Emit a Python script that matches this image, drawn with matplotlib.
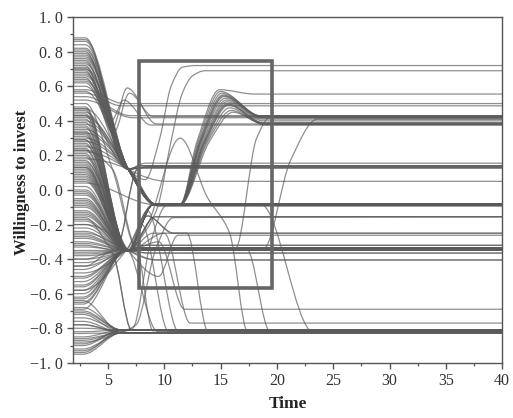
import numpy as np
import matplotlib
matplotlib.use("Agg")
import matplotlib.pyplot as plt
from matplotlib.path import Path
from matplotlib.patches import PathPatch, Rectangle
from matplotlib.ticker import MultipleLocator, FixedLocator, FixedFormatter

# ---------------- data ----------------
T_START = 1.88

def route(start, hold, t, y):
    """start: values at T_START (one per line); hold: time the lines leave
    their start value; t / y: shared key points afterwards."""
    return {"start": start, "hold": hold, "t": t, "y": y}

# upper fan -> upper cluster (0.12 at t=6.8) -> levels
fan_to_0155 = route([0.88], 3.0, [6.8, 8.3, 40], [0.12, 0.155, 0.155])
fan_to_014 = route([0.80, 0.62, 0.74], 3.0, [6.8, 8.0, 40], [0.12, 0.14, 0.14])
fan_to_013 = route([0.75, 0.45, 0.70], 3.0, [6.8, 8.0, 40], [0.12, 0.128, 0.128])
fan_to_072 = route([0.86], 3.0, [6.8, 8.3, 9.6, 10.6, 11.6, 12.8, 40],
                   [0.12, 0.06, 0.30, 0.60, 0.71, 0.72, 0.72])
fan_to_005 = route([0.68], 3.0, [6.8, 10.3, 40], [0.12, 0.05, 0.05])
fan_to_m008 = route([0.84, 0.71, 0.40, 0.30, 0.87, 0.76, 0.47], 3.0, [6.8, 9.2, 40],
                    [0.12, -0.080, -0.080])
fan_to_m009 = route([0.78, 0.64, 0.35, 0.25, 0.81, 0.67, 0.43], 3.0, [6.8, 9.4, 40],
                    [0.12, -0.090, -0.090])
arc_a = route([0.72], 3.0, [5.4, 6.7, 9.3, 40], [0.36, 0.59, 0.382, 0.382])
arc_b = route([0.69], 3.0, [5.5, 6.9, 9.0, 40], [0.33, 0.56, 0.425, 0.425])
arc_c = route([0.65], 3.0, [5.3, 6.4, 8.8, 40], [0.40, 0.52, 0.376, 0.376])
fan_to_050 = route([0.58], 3.0, [6.4, 40], [0.50, 0.50])
fan_to_049 = route([0.56], 3.0, [6.2, 40], [0.487, 0.487])
fan_to_043 = route([0.54], 3.0, [7.0, 40], [0.43, 0.43])
fan_to_042 = route([0.52], 3.0, [7.2, 40], [0.418, 0.418])

# bump bundle (peak near t=15)
bump_start = [0.82, 0.79, 0.77, 0.73, 0.70, 0.66, 0.60, 0.42, 0.38, 0.33, 0.28, 0.22, 0.18,
              0.63, 0.57]
bump_rise_t = [12.9, 13.0, 13.1, 13.15, 13.25, 13.3, 13.4, 13.5, 13.55, 13.65, 13.75, 13.85,
               14.0, 13.2, 13.6]
bump_peak_t = [14.9, 15.0, 15.1, 15.2, 15.3, 15.4, 15.5, 15.55, 15.6, 15.7, 15.8, 15.95,
               16.1, 15.25, 15.65]
bump_peak = [0.58, 0.57, 0.56, 0.55, 0.54, 0.53, 0.52, 0.51, 0.50, 0.49, 0.475, 0.46, 0.45,
             0.545, 0.495]
bump_end_t = [18.0, 18.5, 18.6, 18.6, 18.7, 18.7, 18.7, 18.8, 18.8, 18.8, 18.9, 18.9, 19.0,
              18.6, 18.8]
bump_end = [0.555, 0.43, 0.428, 0.425, 0.42, 0.416, 0.41, 0.40, 0.39, 0.385, 0.381, 0.379,
            0.377, 0.423, 0.387]

# dark band -> lower cluster (-0.35 at t=6.8) -> levels
band_to_m0335 = route([0.48, 0.37, 0.20, 0.02, -0.18, -0.38, 0.11, -0.27,
                       0.33, 0.17, -0.03, -0.20, -0.40], 3.0,
                      [6.8, 8.0, 40], [-0.35, -0.334, -0.334])
band_to_m034 = route([0.44, 0.31, 0.15, -0.05, -0.22, -0.42, 0.06, -0.09,
                      0.29, 0.13, -0.07, -0.24, -0.44], 3.0,
                     [6.8, 8.0, 40], [-0.35, -0.340, -0.340])
band_to_m0345 = route([0.41, 0.27, 0.10, -0.12, -0.30, -0.36, -0.01,
                       0.23, 0.07, -0.14, -0.31, -0.37], 3.0,
                      [6.8, 8.0, 40], [-0.35, -0.346, -0.346])
band_to_m032 = route([0.47, 0.12], 3.0, [6.8, 8.2, 40], [-0.35, -0.32, -0.32])
band_to_m0365 = route([0.36, -0.08], 3.0, [6.8, 8.8, 40], [-0.35, -0.365, -0.365])
band_to_m0405 = route([0.26, -0.25], 3.0, [6.8, 9.3, 40], [-0.35, -0.405, -0.405])
band_to_m025 = route([0.43, 0.05], 3.0, [6.8, 8.5, 10.8, 40], [-0.35, -0.15, -0.25, -0.25])
band_to_m026 = route([0.16], 3.0, [6.8, 9.5, 11.2, 40], [-0.35, -0.50, -0.262, -0.262])
band_to_m0155 = route([0.39, -0.15], 3.0, [6.8, 9.2, 40], [-0.35, -0.155, -0.155])
band_to_m0085 = route([0.34, 0.24, 0.08, -0.02, -0.10, -0.28, -0.33, 0.19, -0.17], 3.0,
                      [6.8, 9.0, 40], [-0.35, -0.085, -0.085])
band_to_069 = route([0.46], 3.0, [6.8, 8.2, 9.4, 10.5, 11.6, 12.5, 13.6, 40],
                    [-0.35, -0.25, -0.10, 0.25, 0.56, 0.66, 0.69, 0.69])
drop_a = route([0.29], 3.0, [6.8, 7.4, 9.0, 40], [-0.35, -0.30, -0.815, -0.815])
drop_b = route([0.14], 3.0, [6.8, 8.0, 10.4, 40], [-0.35, -0.20, -0.82, -0.82])
drop_c = route([-0.06], 3.0, [6.8, 8.5, 11.3, 40], [-0.35, -0.12, -0.822, -0.822])
drop_d = route([-0.20], 3.0, [6.8, 9.4, 40], [-0.35, -0.818, -0.818])
drop_e = route([0.09], 3.0, [6.8, 9.0, 12.0, 13.9, 40], [-0.35, -0.25, -0.25, -0.82, -0.82])
drop_f = route([-0.35], 3.0, [6.8, 8.0, 17.3, 19.4, 40], [-0.35, -0.34, -0.34, -0.82, -0.82])
drop_g = route([0.21], 3.0, [6.8, 9.0, 18.6, 23.2, 40], [-0.35, -0.085, -0.085, -0.82, -0.82])
to_m069 = route([0.13], 3.0, [6.8, 9.5, 11.8, 40], [-0.35, -0.30, -0.69, -0.69])
to_m077 = route([-0.13], 3.0, [6.8, 10.0, 12.3, 40], [-0.35, -0.25, -0.77, -0.77])
wave = route([0.32], 3.0, [6.8, 8.5, 11.4, 13.8, 15.8, 17.4, 40],
             [-0.35, -0.20, 0.30, -0.04, -0.25, -0.82, -0.82])
rise_late_a = route([0.0], 3.0, [6.8, 8.0, 16.3, 18.2, 19.4, 40],
                    [-0.35, -0.34, -0.34, 0.30, 0.42, 0.42])
rise_late_b = route([-0.26], 3.0, [6.8, 8.0, 18.8, 21.2, 23.6, 40],
                    [-0.35, -0.34, -0.34, 0.17, 0.41, 0.41])
cross_down = route([0.50, 0.23], 3.0, [5.4, 7.6, 40], [0.12, -0.34, -0.34])
cross_up = route([-0.16, -0.32], 3.0, [5.7, 7.6, 8.6, 40], [-0.35, 0.12, 0.135, 0.135])
diagonal = route([0.04], 3.0, [9.2, 40], [-0.085, -0.085])

# middle-low starts
mid_to_m0343 = route([-0.46, -0.50, -0.53, -0.56, -0.60, -0.63, -0.66,
                      -0.51, -0.55, -0.58, -0.62, -0.65, -0.69], 2.8,
                     [6.6, 8.0, 40], [-0.35, -0.343, -0.343])
mid_to_m0085 = route([-0.48, -0.58], 2.8, [6.6, 9.0, 40], [-0.35, -0.085, -0.085])
v_down = route([-0.40, -0.44], 3.0, [5.3, 7.1, 40], [-0.36, -0.81, -0.81])
v_up_a = route([-0.78], 2.8, [6.2, 7.2, 8.8, 10.2, 40], [-0.82, -0.80, -0.30, -0.09, -0.085])
v_up_b = route([-0.88], 2.8, [6.2, 7.5, 9.2, 10.8, 40], [-0.82, -0.78, -0.35, -0.16, -0.155])

# bottom fan -> -0.82
bottom_to_m081 = route([-0.70, -0.74, -0.80, -0.85, -0.90, -0.94, -0.68, -0.71, -0.82, -0.89],
                       2.8, [6.2, 40], [-0.81, -0.81])
bottom_to_m0825 = route([-0.72, -0.76, -0.83, -0.87, -0.92, -0.95, -0.64, -0.78, -0.86, -0.93],
                        2.8, [6.2, 40], [-0.826, -0.826])

# highlighted window
box_t = [7.75, 19.55]
box_y = [-0.567, 0.747]

x_ticks = [5, 10, 15, 20, 25, 30, 35, 40]
y_ticks = [1.0, 0.8, 0.6, 0.4, 0.2, 0.0, -0.2, -0.4, -0.6, -0.8, -1.0]
y_tick_labels = ["1. 0", "0. 8", "0. 6", "0. 4", "0. 2", "0. 0",
                 "\u22120. 2", "\u22120. 4", "\u22120. 6", "\u22120. 8", "\u22121. 0"]

routes = [fan_to_0155, fan_to_014, fan_to_013, fan_to_072, fan_to_005, fan_to_m008,
          fan_to_m009, arc_a, arc_b, arc_c, fan_to_050, fan_to_049, fan_to_043, fan_to_042,
          band_to_m0335, band_to_m034, band_to_m0345, band_to_m032, band_to_m0365,
          band_to_m0405, band_to_m025, band_to_m026, band_to_m0155, band_to_m0085,
          band_to_069, drop_a, drop_b, drop_c, drop_d, drop_e, drop_f, drop_g, to_m069,
          to_m077, wave, rise_late_a, rise_late_b, cross_down, cross_up, diagonal,
          mid_to_m0343, mid_to_m0085, v_down, v_up_a, v_up_b, bottom_to_m081, bottom_to_m0825]
for i in range(len(bump_start)):
    routes.append(route([bump_start[i]], 3.0,
                        [6.8, 9.2, 11.4, bump_rise_t[i], bump_peak_t[i], bump_end_t[i], 40],
                        [0.12, -0.085, -0.085, 0.28, bump_peak[i], bump_end[i], bump_end[i]]))

# ---------------- drawing ----------------
def smooth_path(xs, ys):
    """Monotone cubic (Fritsch-Carlson tangents) drawn as Bezier curves."""
    xs = np.asarray(xs, float)
    ys = np.asarray(ys, float)
    h = np.diff(xs)
    d = np.diff(ys) / h
    m = np.zeros_like(ys)
    for i in range(1, len(xs) - 1):
        if d[i - 1] * d[i] > 0:
            w1 = 2 * h[i] + h[i - 1]
            w2 = h[i] + 2 * h[i - 1]
            m[i] = (w1 + w2) / (w1 / d[i - 1] + w2 / d[i])
    verts = [(xs[0], ys[0])]
    codes = [Path.MOVETO]
    for i in range(len(xs) - 1):
        verts += [(xs[i] + h[i] / 3, ys[i] + m[i] * h[i] / 3),
                  (xs[i + 1] - h[i] / 3, ys[i + 1] - m[i + 1] * h[i] / 3),
                  (xs[i + 1], ys[i + 1])]
        codes += [Path.CURVE4] * 3
    return Path(verts, codes)

plt.rcParams['font.family'] = ['Liberation Serif', 'DejaVu Serif']
fig = plt.figure(figsize=(5.13, 4.18), dpi=100)
ax = fig.add_axes([0.142, 0.132, 0.837, 0.827])

line_color = '#5a5a5a'
for r in routes:
    for s in r["start"]:
        xs = [T_START, r["hold"]] + list(r["t"])
        ys = [s, s] + list(r["y"])
        ax.add_patch(PathPatch(smooth_path(xs, ys), fill=False, edgecolor=line_color,
                               lw=0.9, alpha=0.68, zorder=2))

ax.add_patch(Rectangle((box_t[0], box_y[0]), box_t[1] - box_t[0], box_y[1] - box_y[0],
                       fill=False, edgecolor='#666666', lw=2.6, zorder=5))

ax.set_xlim(T_START, 40)
ax.set_ylim(-1.0, 1.0)
ax.xaxis.set_major_locator(FixedLocator(x_ticks))
ax.xaxis.set_minor_locator(MultipleLocator(2.5))
ax.yaxis.set_major_locator(FixedLocator(y_ticks))
ax.yaxis.set_major_formatter(FixedFormatter(y_tick_labels))
ax.yaxis.set_minor_locator(MultipleLocator(0.1))
ax.tick_params(which='major', direction='out', length=4, width=1.0, color='#555555',
               labelsize=11.5, labelcolor='#333333', pad=3)
ax.tick_params(which='minor', direction='out', length=2.5, width=0.9, color='#555555')
for sp in ax.spines.values():
    sp.set_color('#555555')
    sp.set_linewidth(1.0)

fig.text(22 / 513, 1 - 182 / 418, "Willingness to invest", rotation=90, ha='center',
         va='center', fontsize=12, fontweight='bold', color='#222222')
fig.text(288 / 513, 1 - 404 / 418, "Time", ha='center', va='center', fontsize=12.5,
         fontweight='bold', color='#222222')

fig.savefig("out.png", dpi=100)
